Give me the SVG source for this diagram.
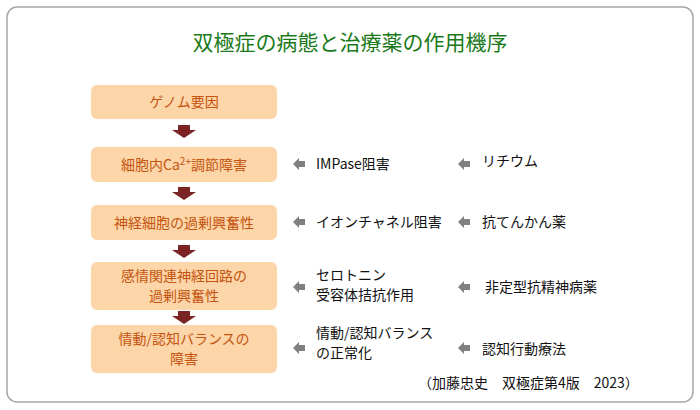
<svg xmlns="http://www.w3.org/2000/svg" width="700" height="410" viewBox="0 0 700 410">
<style>
text{font-family:"Noto Sans CJK JP","Noto Sans",sans-serif}
.box{fill:#fcd5a8;}
.bt{fill:#c4540f;font-size:14px;text-anchor:middle}
.lt{fill:#111;font-size:14px}
.ga{fill:#808080}
.da{fill:#7b2424}
</style>
<defs>
<path id="ga" class="ga" d="M0,0 L6,-6 L6,-3 L12,-3 L12,3 L6,3 L6,6 Z"/>
<path id="da" class="da" d="M-6,0 L6,0 L6,5 L12,5 L0,13 L-12,5 L-6,5 Z"/>
</defs>
<rect x="7" y="7" width="686" height="395" rx="10" fill="#fff" stroke="#a6a6a6" stroke-width="1.5"/>
<text x="350" y="50" font-size="21" fill="#1a7a1a" text-anchor="middle">双極症の病態と治療薬の作用機序</text>
<g id="n1"><rect class="box" x="91" y="85" width="186" height="34" rx="6"/><text class="bt" x="184" y="107">ゲノム要因</text></g>
<g id="n2"><rect class="box" x="91" y="147" width="186" height="35" rx="6"/><text class="bt" x="184" y="170">細胞内Ca<tspan font-size="10" dy="-5">2+</tspan><tspan dy="5">調節障害</tspan></text></g>
<g id="n3"><rect class="box" x="91" y="205" width="186" height="35" rx="6"/><text class="bt" x="184" y="228">神経細胞の過剰興奮性</text></g>
<g id="n4"><rect class="box" x="91" y="262" width="186" height="48" rx="6"/><text class="bt" x="184" y="281">感情関連神経回路の</text><text class="bt" x="184" y="301">過剰興奮性</text></g>
<g id="n5"><rect class="box" x="91" y="325" width="186" height="48" rx="6"/><text class="bt" x="184" y="344">情動/認知バランスの</text><text class="bt" x="184" y="364">障害</text></g>
<g id="connectors">
<use href="#da" x="184" y="125"/>
<use href="#da" x="184" y="187"/>
<use href="#da" x="184" y="245"/>
<use href="#da" x="184" y="311"/>
<use href="#ga" x="293" y="164"/>
<use href="#ga" x="293" y="222"/>
<use href="#ga" x="293" y="287"/>
<use href="#ga" x="293" y="348"/>
<use href="#ga" x="458" y="164"/>
<use href="#ga" x="458" y="222"/>
<use href="#ga" x="458" y="287"/>
<use href="#ga" x="458" y="348"/>
</g>
<g id="labels">
<text class="lt" x="316" y="169">IMPase阻害</text>
<text class="lt" x="482" y="166">リチウム</text>
<text class="lt" x="316" y="227">イオンチャネル阻害</text>
<text class="lt" x="482" y="227">抗てんかん薬</text>
<text class="lt" x="316" y="280">セロトニン</text>
<text class="lt" x="316" y="300">受容体拮抗作用</text>
<text class="lt" x="485" y="292">非定型抗精神病薬</text>
<text class="lt" x="316" y="338">情動/認知バランス</text>
<text class="lt" x="316" y="358">の正常化</text>
<text class="lt" x="482" y="354">認知行動療法</text>
<text class="lt" x="418" y="388" font-size="13">（加藤忠史　双極症第4版　2023）</text>
</g>
</svg>
